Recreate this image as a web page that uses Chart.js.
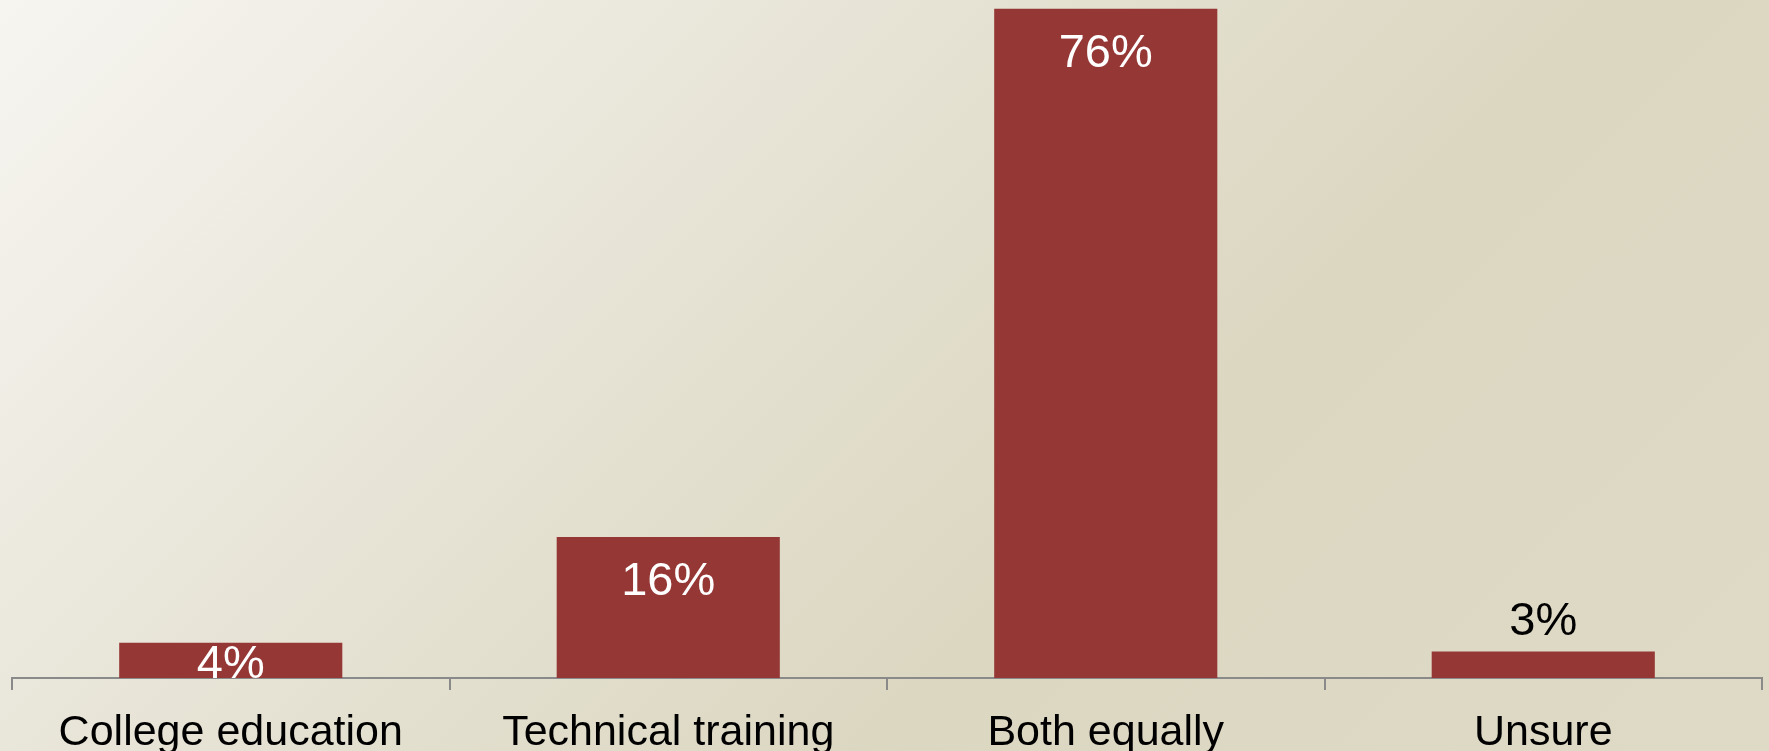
<!DOCTYPE html>
<html>
<head>
<meta charset="utf-8">
<script src="https://cdn.jsdelivr.net/npm/chart.js@4/dist/chart.umd.min.js"></script>
<style>
  html, body { margin: 0; padding: 0; }
  body {
    width: 1769px; height: 751px; overflow: hidden;
    background: linear-gradient(135deg, #f6f5f0 0%, #e9e6da 30%, #dcd7c1 64%, #dfdac6 100%);
  }
  #wrap { position: relative; width: 1769px; height: 751px; }
</style>
</head>
<body>
<div id="wrap"><canvas id="c"></canvas></div>
<script>
const categories = ["College education", "Technical training", "Both equally", "Unsure"];
const percentValues = [4, 16, 76, 3];
const valueLabels = ["4%", "16%", "76%", "3%"];

const barLabels = {
  id: 'barLabels',
  afterDatasetsDraw(chart) {
    const ctx = chart.ctx;
    const meta = chart.getDatasetMeta(0);
    ctx.save();
    ctx.font = '47px "Liberation Sans", Arial, sans-serif';
    ctx.textAlign = 'center';
    ctx.textBaseline = 'middle';
    meta.data.forEach((bar, i) => {
      const top = Math.min(bar.y, bar.base);
      const h = Math.abs(bar.base - bar.y);
      let y, color;
      if (h < 30) { y = top - 30; color = '#000000'; }
      else if (h < 82) { y = (top + bar.base) / 2 + 5; color = '#ffffff'; }
      else { y = top + 45; color = '#ffffff'; }
      ctx.fillStyle = color;
      ctx.fillText(valueLabels[i], bar.x, y);
    });
    ctx.restore();
  }
};

new Chart(document.getElementById('c'), {
  type: 'bar',
  data: {
    labels: categories,
    datasets: [{
      data: percentValues,
      backgroundColor: '#953735',
      borderWidth: 0,
      barPercentage: 0.51,
      categoryPercentage: 1.0
    }]
  },
  options: {
    responsive: true,
    maintainAspectRatio: false,
    animation: false,
    layout: { padding: { left: 12, right: 7, top: 0, bottom: 0 } },
    plugins: { legend: { display: false }, tooltip: { enabled: false } },
    scales: {
      x: {
        offset: true,
        afterFit: (s) => { s.height = 73; },
        grid: { display: true, offset: true, drawOnChartArea: false, drawTicks: true, tickLength: 12, color: '#8a8a8a', lineWidth: 2 },
        border: { display: true, color: '#8a8a8a', width: 2 },
        ticks: { color: '#000000', padding: 17, maxRotation: 0, autoSkip: false,
          font: { family: '"Liberation Sans", Arial, sans-serif', size: 43 } }
      },
      y: { display: false, min: 0, max: 77 }
    }
  },
  plugins: [barLabels]
});
</script>
</body>
</html>
